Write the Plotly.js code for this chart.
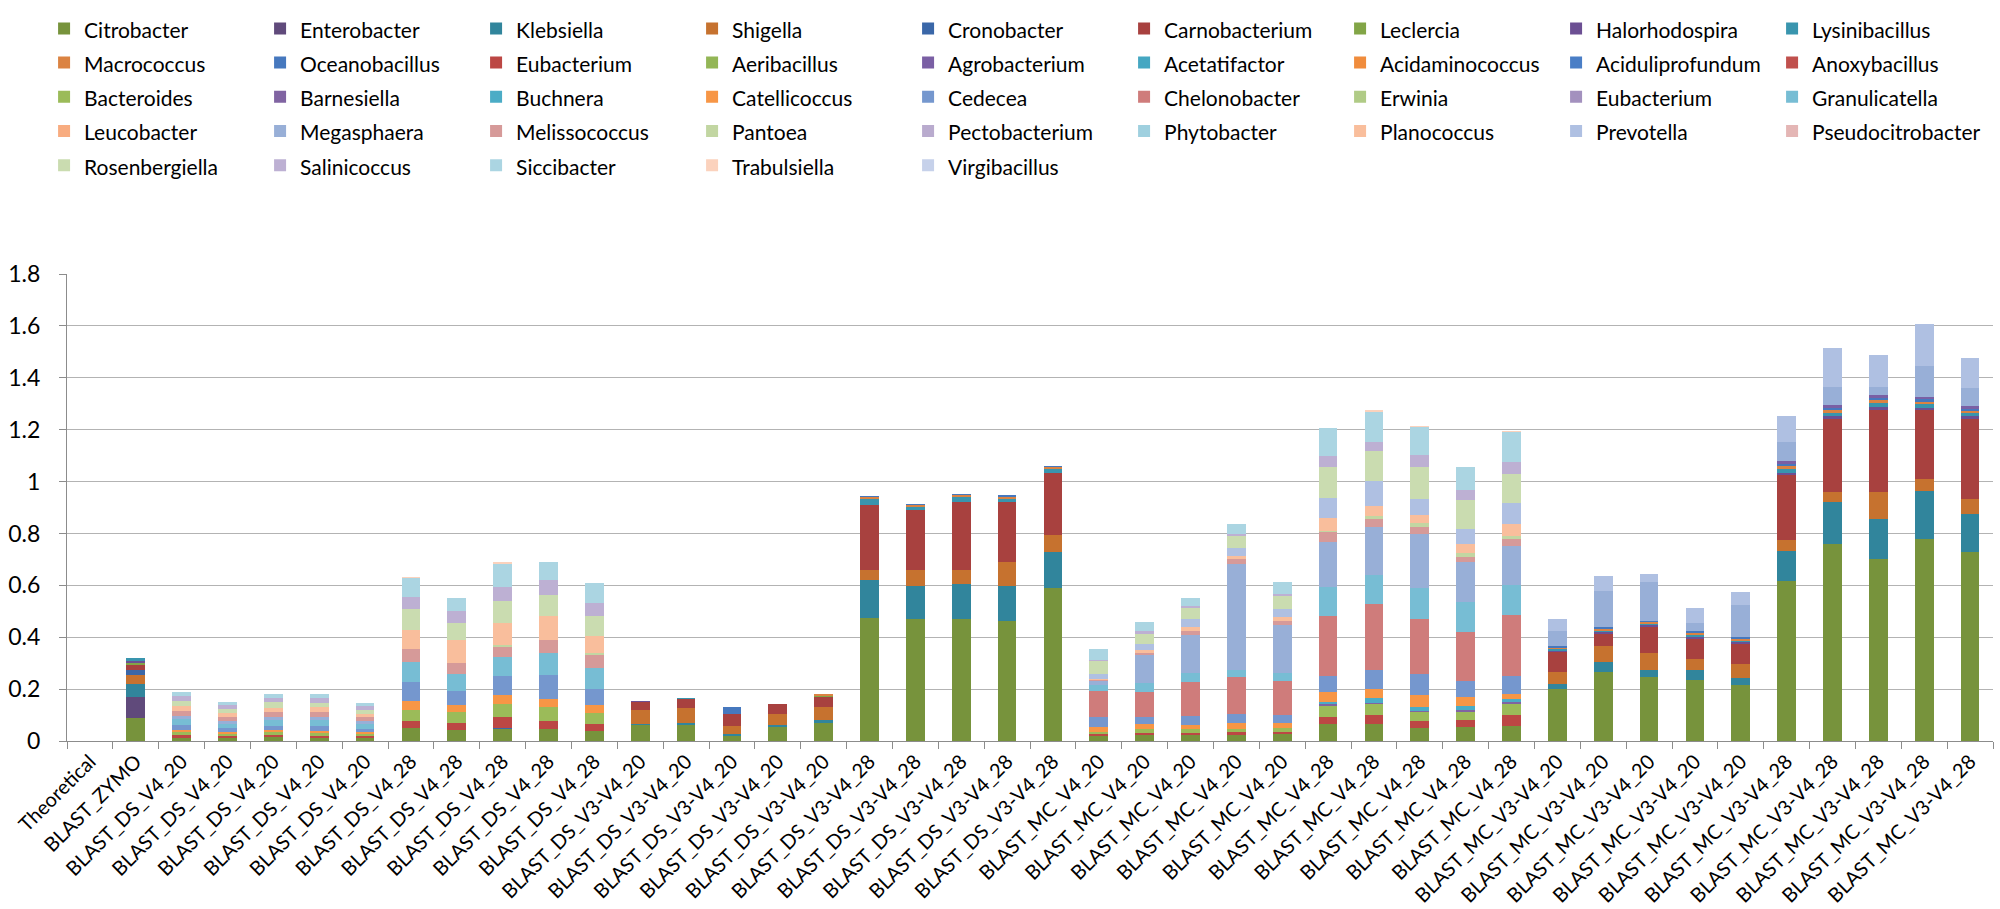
<!DOCTYPE html>
<html>
<head>
<meta charset="utf-8">
<script src="https://cdn.plot.ly/plotly-3.0.1.min.js"></script>
<style>html,body{margin:0;padding:0;background:#fff;}#chart{width:2000px;height:909px;}</style>
</head>
<body>
<div id="chart"></div>
<script>
// ---- categories (x tick labels) ----
const categories = ["Theoretical","BLAST_ZYMO",
 "BLAST_DS_V4_20","BLAST_DS_V4_20","BLAST_DS_V4_20","BLAST_DS_V4_20","BLAST_DS_V4_20",
 "BLAST_DS_V4_28","BLAST_DS_V4_28","BLAST_DS_V4_28","BLAST_DS_V4_28","BLAST_DS_V4_28",
 "BLAST_DS_V3-V4_20","BLAST_DS_V3-V4_20","BLAST_DS_V3-V4_20","BLAST_DS_V3-V4_20","BLAST_DS_V3-V4_20",
 "BLAST_DS_V3-V4_28","BLAST_DS_V3-V4_28","BLAST_DS_V3-V4_28","BLAST_DS_V3-V4_28","BLAST_DS_V3-V4_28",
 "BLAST_MC_V4_20","BLAST_MC_V4_20","BLAST_MC_V4_20","BLAST_MC_V4_20","BLAST_MC_V4_20",
 "BLAST_MC_V4_28","BLAST_MC_V4_28","BLAST_MC_V4_28","BLAST_MC_V4_28","BLAST_MC_V4_28",
 "BLAST_MC_V3-V4_20","BLAST_MC_V3-V4_20","BLAST_MC_V3-V4_20","BLAST_MC_V3-V4_20","BLAST_MC_V3-V4_20",
 "BLAST_MC_V3-V4_28","BLAST_MC_V3-V4_28","BLAST_MC_V3-V4_28","BLAST_MC_V3-V4_28","BLAST_MC_V3-V4_28"];

// ---- series values (one per genus, 42 values each, in category order) ----
const citrobacter = [0,0.089, 0.013,0.010,0.014,0.012,0.010, 0.051,0.042,0.047,0.045,0.038, 0.060,0.060,0.018,0.055,0.070, 0.475,0.470,0.470,0.462,0.589, 0.019,0.022,0.023,0.023,0.027, 0.065,0.065,0.052,0.055,0.058, 0.199,0.267,0.245,0.237,0.216, 0.618,0.758,0.702,0.779,0.730];
const enterobacter = [0,0.080, 0,0,0,0,0, 0,0,0,0,0, 0,0,0,0,0, 0,0,0,0,0, 0,0,0,0,0, 0,0,0,0,0, 0,0,0,0,0, 0,0,0,0,0];
const klebsiella = [0,0.052, 0,0,0,0,0, 0,0,0,0,0, 0.005,0.008,0.008,0.005,0.010, 0.145,0.127,0.137,0.135,0.140, 0,0,0,0,0, 0,0,0,0,0, 0.019,0.038,0.028,0.036,0.025, 0.114,0.165,0.152,0.183,0.144];
const shigella = [0,0.032, 0,0,0,0,0, 0,0,0,0,0, 0.055,0.060,0.030,0.045,0.050, 0.041,0.064,0.054,0.093,0.066, 0,0,0,0,0, 0,0,0,0,0, 0.048,0.060,0.066,0.044,0.057, 0.041,0.038,0.104,0.048,0.060];
const cronobacter = [0,0.022, 0,0,0,0,0, 0,0,0.005,0,0, 0,0,0,0,0, 0,0,0,0,0, 0,0,0,0,0, 0,0,0,0,0, 0,0,0,0,0, 0,0,0,0,0];
const carnobacterium = [0,0.018, 0,0,0,0,0, 0,0,0,0,0, 0.030,0.034,0.050,0.038,0.040, 0.248,0.228,0.260,0.231,0.237, 0,0,0,0,0, 0,0,0,0,0, 0.076,0.048,0.102,0.076,0.076, 0.251,0.281,0.318,0.264,0.309];
const leclercia = [0,0.008, 0,0,0,0,0, 0,0,0,0,0, 0,0,0,0,0.005, 0,0,0,0,0, 0,0,0,0,0, 0,0,0,0,0, 0,0,0,0,0, 0,0,0,0,0];
const halorhodospira = [0,0.008, 0,0,0,0,0, 0,0,0,0,0, 0.005,0,0,0,0, 0,0,0,0,0, 0,0,0,0,0, 0,0,0,0,0, 0.006,0.006,0.006,0.008,0.007, 0.010,0.010,0.011,0.010,0.009];
const lysinibacillus = [0,0.012, 0,0,0,0,0, 0,0,0,0,0, 0,0.005,0,0,0, 0.025,0.013,0.019,0.013,0.018, 0,0,0,0,0, 0,0,0,0,0, 0.006,0.006,0.005,0.008,0.006, 0.015,0.014,0.015,0.014,0.012];
const macrococcus = [0,0, 0,0,0,0,0, 0,0,0,0,0, 0,0,0,0,0.005, 0.006,0.006,0.008,0.008,0.005, 0,0,0,0,0, 0,0,0,0,0, 0.006,0.007,0.006,0.008,0.006, 0.012,0.010,0.011,0.010,0.009];
const oceanobacillus = [0,0, 0,0,0,0,0, 0,0,0,0,0, 0,0,0.025,0,0, 0.004,0.004,0.005,0.005,0.005, 0,0,0,0,0, 0,0,0,0,0, 0.006,0.006,0.006,0.008,0.006, 0.008,0.009,0.009,0.009,0.008];
const eubacterium = [0,0, 0.010,0.008,0.010,0.009,0.008, 0.025,0.028,0.042,0.032,0.028, 0,0,0,0,0, 0,0,0,0,0, 0.008,0.010,0.009,0.013,0.009, 0.029,0.036,0.025,0.025,0.042, 0,0,0,0,0, 0,0,0,0,0];
const aeribacillus = [0,0, 0,0,0,0,0, 0,0,0,0,0, 0,0,0,0,0, 0,0,0,0,0, 0,0,0,0,0, 0,0,0,0,0, 0,0,0,0,0, 0,0,0,0,0];
const agrobacterium = [0,0, 0,0,0,0,0, 0,0,0,0,0, 0,0,0,0,0, 0,0,0,0,0, 0,0,0,0,0, 0,0,0,0,0, 0,0,0,0,0, 0.010,0.010,0.010,0.010,0.009];
const acetatifactor = [0,0, 0,0,0,0,0, 0,0,0,0,0, 0,0,0,0,0, 0,0,0,0,0, 0,0,0,0,0, 0,0,0,0,0, 0,0,0,0,0, 0,0,0,0,0];
const acidaminococcus = [0,0, 0,0,0,0,0, 0,0,0,0,0, 0,0,0,0,0, 0,0,0,0,0, 0,0,0,0,0, 0,0,0,0,0, 0,0,0,0,0, 0,0,0,0,0];
const aciduliprofundum = [0,0, 0,0,0,0,0, 0,0,0,0,0, 0,0,0,0,0, 0,0,0,0,0, 0,0,0,0,0, 0,0,0,0,0, 0,0,0,0,0, 0,0,0,0,0];
const anoxybacillus = [0,0, 0,0,0,0,0, 0,0,0,0,0, 0,0,0,0,0, 0,0,0,0,0, 0,0,0,0,0, 0,0,0,0,0, 0,0,0,0,0, 0,0,0,0,0];
const bacteroides = [0,0, 0.010,0.008,0.009,0.010,0.008, 0.045,0.042,0.048,0.054,0.042, 0,0,0,0,0, 0,0,0,0,0, 0.009,0.015,0.013,0.012,0.013, 0.041,0.041,0.034,0.032,0.043, 0,0,0,0,0, 0,0,0,0,0];
const barnesiella = [0,0, 0,0,0,0,0, 0,0,0,0,0, 0,0,0,0,0, 0,0,0,0,0, 0,0,0,0,0, 0.006,0.006,0.006,0.008,0.008, 0,0,0,0,0, 0,0,0,0,0];
const buchnera = [0,0, 0,0,0,0,0, 0,0,0,0,0, 0,0,0,0,0, 0,0,0,0,0, 0,0,0,0,0, 0.010,0.016,0.013,0.013,0.012, 0,0,0,0,0, 0,0,0,0,0];
const catellicoccus = [0,0, 0.009,0.007,0.008,0.008,0.007, 0.032,0.025,0.034,0.032,0.032, 0,0,0,0,0, 0,0,0,0,0, 0.017,0.019,0.017,0.023,0.022, 0.036,0.036,0.047,0.038,0.020, 0,0,0,0,0, 0,0,0,0,0];
const cedecea = [0,0, 0.019,0.016,0.018,0.019,0.015, 0.076,0.056,0.074,0.093,0.060, 0,0,0,0,0, 0,0,0,0,0, 0.038,0.025,0.034,0.032,0.029, 0.064,0.074,0.083,0.061,0.066, 0,0,0,0,0, 0,0,0,0,0];
const chelonobacter = [0,0, 0,0,0,0,0, 0,0,0,0,0, 0,0,0,0,0, 0,0,0,0,0, 0.102,0.098,0.133,0.144,0.133, 0.229,0.254,0.211,0.188,0.235, 0,0,0,0,0, 0,0,0,0,0];
const erwinia = [0,0, 0,0,0,0,0, 0,0,0,0,0, 0,0,0,0,0, 0,0,0,0,0, 0,0,0,0,0, 0,0,0,0,0, 0,0,0,0,0, 0,0,0,0,0];
const eubacterium2 = [0,0, 0,0,0,0,0, 0,0,0,0,0, 0,0,0,0,0, 0,0,0,0,0, 0,0,0,0,0, 0,0,0,0,0, 0,0,0,0,0, 0,0,0,0,0];
const granulicatella = [0,0, 0.022,0.018,0.021,0.022,0.018, 0.076,0.065,0.075,0.085,0.080, 0,0,0,0,0, 0,0,0,0,0, 0.022,0.036,0.033,0.028,0.028, 0.114,0.112,0.117,0.114,0.118, 0,0,0,0,0, 0,0,0,0,0];
const leucobacter = [0,0, 0,0,0,0,0, 0,0,0,0,0, 0,0,0,0,0, 0,0,0,0,0, 0,0,0,0,0, 0,0,0,0,0, 0,0,0,0,0, 0,0,0,0,0];
const megasphaera = [0,0, 0.013,0.010,0.012,0.012,0.010, 0,0,0,0,0, 0,0,0,0,0, 0,0,0,0,0, 0.015,0.107,0.146,0.408,0.188, 0.174,0.184,0.210,0.155,0.151, 0.057,0.142,0.150,0.028,0.127, 0.074,0.070,0.033,0.117,0.072];
const melissococcus = [0,0, 0.019,0.016,0.019,0.018,0.015, 0.051,0.043,0.038,0.048,0.051, 0,0,0,0,0, 0,0,0,0,0, 0.004,0.009,0.015,0.017,0.015, 0.036,0.032,0.025,0.019,0.025, 0,0,0,0,0, 0,0,0,0,0];
const pantoea = [0,0, 0,0,0,0,0, 0,0,0.008,0,0.009, 0,0,0,0,0, 0,0,0,0,0, 0,0,0,0,0, 0.006,0.013,0.017,0.017,0.013, 0,0,0,0,0, 0,0,0,0,0];
const pectobacterium = [0,0, 0,0,0,0,0, 0,0,0,0,0, 0,0,0,0,0, 0,0,0,0,0, 0,0,0,0,0, 0,0,0,0,0, 0,0,0,0,0, 0,0,0,0,0];
const phytobacter = [0,0, 0,0,0,0,0, 0,0,0,0,0, 0,0,0,0,0, 0,0,0,0,0, 0,0,0,0,0, 0,0,0,0,0, 0,0,0,0,0, 0,0,0,0,0];
const planococcus = [0,0, 0.019,0.015,0.018,0.020,0.015, 0.070,0.089,0.083,0.092,0.064, 0,0,0,0,0, 0,0,0,0,0, 0.004,0.009,0.015,0.015,0.013, 0.051,0.038,0.030,0.034,0.044, 0,0,0,0,0, 0,0,0,0,0];
const prevotella = [0,0, 0,0,0,0,0, 0,0,0,0,0, 0,0,0,0,0, 0,0,0,0,0, 0.020,0.025,0.033,0.028,0.033, 0.074,0.095,0.064,0.057,0.083, 0.047,0.055,0.030,0.058,0.048, 0.098,0.150,0.124,0.165,0.116];
const pseudocitrobacter = [0,0, 0,0,0,0,0, 0,0,0,0,0, 0,0,0,0,0, 0,0,0,0,0, 0,0,0,0,0, 0,0,0,0,0, 0,0,0,0,0, 0,0,0,0,0];
const rosenbergiella = [0,0, 0.019,0.015,0.020,0.018,0.014, 0.083,0.064,0.087,0.080,0.076, 0,0,0,0,0, 0,0,0,0,0, 0.050,0.038,0.041,0.046,0.047, 0.121,0.114,0.124,0.114,0.112, 0,0,0,0,0, 0,0,0,0,0];
const salinicoccus = [0,0, 0.019,0.014,0.016,0.017,0.013, 0.047,0.048,0.054,0.060,0.051, 0,0,0,0,0, 0,0,0,0,0, 0.006,0.010,0.010,0.009,0.009, 0.041,0.038,0.044,0.036,0.047, 0,0,0,0,0, 0,0,0,0,0];
const siccibacter = [0,0, 0.015,0.013,0.017,0.017,0.013, 0.074,0.048,0.086,0.068,0.079, 0,0,0,0,0, 0,0,0,0,0, 0.042,0.034,0.028,0.038,0.046, 0.110,0.114,0.110,0.091,0.114, 0,0,0,0,0, 0,0,0,0,0];
const trabulsiella = [0,0, 0,0,0,0,0, 0.003,0,0.009,0,0, 0,0,0,0,0, 0,0,0,0,0, 0,0,0,0,0, 0,0.006,0.004,0,0.004, 0,0,0,0,0, 0,0,0,0,0];
const virgibacillus = [0,0, 0,0,0,0,0, 0,0,0,0,0, 0,0,0,0,0, 0,0,0,0,0, 0,0,0,0,0, 0,0,0,0,0, 0,0,0,0,0, 0,0,0,0,0];

// ---- series names and colours (legend order) ----
const seriesNames = ["Citrobacter","Enterobacter","Klebsiella","Shigella","Cronobacter","Carnobacterium","Leclercia","Halorhodospira","Lysinibacillus",
 "Macrococcus","Oceanobacillus","Eubacterium","Aeribacillus","Agrobacterium","Acetatifactor","Acidaminococcus","Aciduliprofundum","Anoxybacillus",
 "Bacteroides","Barnesiella","Buchnera","Catellicoccus","Cedecea","Chelonobacter","Erwinia","Eubacterium","Granulicatella",
 "Leucobacter","Megasphaera","Melissococcus","Pantoea","Pectobacterium","Phytobacter","Planococcus","Prevotella","Pseudocitrobacter",
 "Rosenbergiella","Salinicoccus","Siccibacter","Trabulsiella","Virgibacillus"];
const seriesValues = [citrobacter,enterobacter,klebsiella,shigella,cronobacter,carnobacterium,leclercia,halorhodospira,lysinibacillus,
 macrococcus,oceanobacillus,eubacterium,aeribacillus,agrobacterium,acetatifactor,acidaminococcus,aciduliprofundum,anoxybacillus,
 bacteroides,barnesiella,buchnera,catellicoccus,cedecea,chelonobacter,erwinia,eubacterium2,granulicatella,
 leucobacter,megasphaera,melissococcus,pantoea,pectobacterium,phytobacter,planococcus,prevotella,pseudocitrobacter,
 rosenbergiella,salinicoccus,siccibacter,trabulsiella,virgibacillus];
const seriesColors = ["#77933C","#604A7B","#31859C","#C6722F","#3A67A8","#A8413F","#82A547","#6C4F93","#3995AE",
 "#DB8342","#4678BE","#BC4744","#93B656","#7A5FA4","#45A7C2","#F08C3C","#4A7EC6","#C0504D",
 "#9BBB59","#8064A2","#4BACC6","#F79646","#7597CE","#CF7C7B","#B0CB86","#A391BE","#77BDD4",
 "#F8AC80","#98AFD7","#D69A99","#C2D6A2","#B9ABCE","#9FD0DF","#F9BE9C","#AFC0E2","#E4B6B5",
 "#CADCB0","#BDB0D3","#ABD5E2","#FBD2BD","#C6D1EA"];

const xpos = categories.map((c, i) => i);
const bounds = categories.map((c, i) => i - 0.5).concat([categories.length - 0.5]);

const traces = seriesNames.map((name, k) => ({
  type: 'bar', name: '<span style="font-size:21px">' + name + '</span>', x: xpos, y: seriesValues[k],
  marker: {color: seriesColors[k], line: {width: 0}},
  hoverinfo: 'skip'
}));
// invisible helper trace so the boundary tick axis is drawn
traces.push({type: 'bar', x: [0], y: [0], xaxis: 'x2', showlegend: false, hoverinfo: 'skip', marker: {color: 'rgba(0,0,0,0)'}});

const layout = {
  width: 2000, height: 909,
  paper_bgcolor: '#ffffff', plot_bgcolor: '#ffffff',
  font: {family: 'Lato, "Noto Sans", sans-serif', color: '#000000', size: 20},
  margin: {l: 67, r: 7, t: 270, b: 168, pad: 0},
  barmode: 'stack', bargap: 0.59,
  showlegend: true,
  legend: {
    orientation: 'h', traceorder: 'normal',
    xref: 'paper', yref: 'paper', x: -0.0119, y: 1.5732, xanchor: 'left', yanchor: 'top',
    entrywidth: 171, entrywidthmode: 'pixels',
    font: {size: 24, color: '#000000'}, bgcolor: 'rgba(0,0,0,0)', borderwidth: 0
  },
  xaxis: {
    type: 'linear', range: [-0.5, categories.length - 0.5], tickmode: 'array',
    tickvals: xpos, ticktext: categories, tickangle: -45,
    tickfont: {size: 20, color: '#000000'}, ticks: '', showgrid: false, zeroline: false,
    showline: true, linecolor: '#8C8C8C', linewidth: 1, automargin: false, fixedrange: true
  },
  xaxis2: {
    overlaying: 'x', anchor: 'y', side: 'bottom', type: 'linear',
    range: [-0.5, categories.length - 0.5], tickmode: 'array', tickvals: bounds,
    ticks: 'outside', ticklen: 7, tickcolor: '#8C8C8C', tickwidth: 1, showticklabels: false,
    showgrid: false, zeroline: false, showline: false, automargin: false, fixedrange: true
  },
  yaxis: {
    range: [0, 1.8], tick0: 0, dtick: 0.2,
    showgrid: true, gridcolor: '#B3B3B3', gridwidth: 1, zeroline: false,
    showline: true, linecolor: '#8C8C8C', linewidth: 1,
    ticks: 'outside', ticklen: 7, tickcolor: '#8C8C8C',
    tickfont: {size: 23, color: '#000000'}, ticklabelstandoff: 14, automargin: false, fixedrange: true
  }
};

Plotly.newPlot('chart', traces, layout, {displayModeBar: false, staticPlot: true});
</script>
</body>
</html>
